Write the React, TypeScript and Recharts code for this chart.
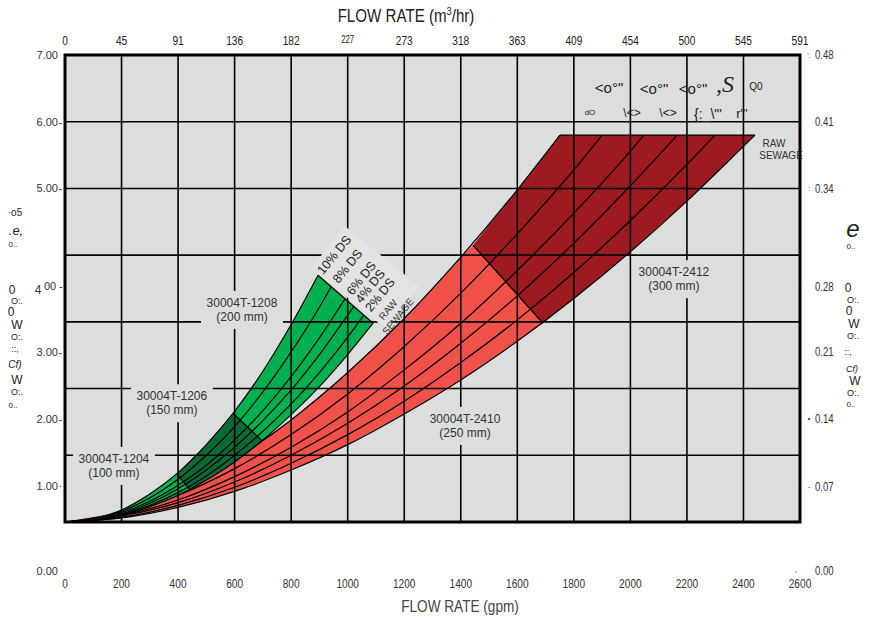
import React from 'react';
import {
  ComposedChart,
  Area,
  Line,
  XAxis,
  YAxis,
  CartesianGrid,
  ReferenceArea,
  ReferenceDot,
} from 'recharts';

// ---------------- axis ticks / labels ----------------
const gpmTicks = [0, 200, 400, 600, 800, 1000, 1200, 1400, 1600, 1800, 2000, 2200, 2400, 2600];
const m3hrLabels = ['0', '45', '91', '136', '182', '227', '273', '318', '363', '409', '454', '500', '545', '591'];
const psiTicks = [0, 1, 2, 3, 4, 5, 6, 7];
const psiLabels = ['0.00', '1.00', '2.00', '3.00', '4', '5.00', '6.00', '7.00'];
const psiMarks = ['', '·', '-', '-', '-', '-', '-', ''];
const barLabels = ['0.00', '0.07', '0.14', '0.21', '0.28', '0.34', '0.41', '0.48'];
const barMarks = [',', '-', '•', '', '', ':', '', "'."];

// ---------------- green family (30004T-1204/1206/1208), head (psi) vs gpm ----------------
const greenGrid = [0, 100, 200, 300, 400, 500, 600, 700, 800, 900, 1000];
const green10 = [0, 0.05, 0.18, 0.42, 0.74, 1.16, 1.66, 2.26, 2.96];
const green8 = [0, 0.04, 0.16, 0.36, 0.64, 1.0, 1.43, 1.95, 2.55, 3.22];
const green6 = [0, 0.03, 0.14, 0.31, 0.55, 0.85, 1.23, 1.67, 2.18, 2.76];
const green4 = [0, 0.03, 0.12, 0.28, 0.5, 0.78, 1.12, 1.52, 1.98, 2.51, 3.1];
const green2 = [0, 0.03, 0.11, 0.25, 0.44, 0.69, 1.0, 1.36, 1.77, 2.24, 2.77];
const greenRaw = [0, 0.03, 0.1, 0.23, 0.4, 0.63, 0.9, 1.23, 1.61, 2.03, 2.51];
const greenEndGpm = [895, 942, 991, 1022, 1057, 1090];
const greenEndHead = [3.7, 3.53, 3.35, 3.23, 3.1, 2.98];
// model boundaries inside green band (10% DS point -> raw sewage point)
const greenSplitTopGpm = [396, 594];
const greenSplitTopHead = [0.72, 1.63];
const greenSplitBotGpm = [442, 697];
const greenSplitBotHead = [0.49, 1.22];

// ---------------- red family (30004T-2410/2412) ----------------
const redGrid = [0, 200, 400, 600, 800, 1000, 1200, 1400, 1600, 1800, 2000, 2200, 2400];
const red10 = [0, 0.15, 0.47, 0.94, 1.53, 2.24, 3.05, 3.97, 4.98];
const red8 = [0, 0.12, 0.4, 0.8, 1.31, 1.92, 2.63, 3.43, 4.32, 5.28];
const red6 = [0, 0.1, 0.33, 0.68, 1.12, 1.65, 2.28, 2.98, 3.77, 4.63, 5.56];
const red4 = [0, 0.09, 0.29, 0.6, 1.0, 1.48, 2.04, 2.68, 3.39, 4.18, 5.04];
const red2 = [0, 0.07, 0.25, 0.52, 0.88, 1.31, 1.81, 2.39, 3.03, 3.74, 4.52, 5.36];
const redRaw = [0, 0.06, 0.22, 0.46, 0.78, 1.16, 1.62, 2.13, 2.71, 3.35, 4.05, 4.81, 5.63];
const redEndGpm = [1751, 1900, 2048, 2166, 2299, 2441];
const redEndHead = [5.8, 5.8, 5.8, 5.8, 5.8, 5.8];
const redSplitTopGpm = [1443];
const redSplitTopHead = [4.15];
const redSplitBotGpm = [1691];
const redSplitBotHead = [2.98];

const dsLabels = ['10% DS', '8% DS', '6% DS', '4% DS', '2% DS'];

const greenModels = [
  { l1: '30004T-1204', l2: '(100 mm)', gpm: 173, head: 0.84 },
  { l1: '30004T-1206', l2: '(150 mm)', gpm: 378, head: 1.78 },
  { l1: '30004T-1208', l2: '(200 mm)', gpm: 626, head: 3.18 },
];
const redModels = [
  { l1: '30004T-2410', l2: '(250 mm)', gpm: 1415, head: 1.44 },
  { l1: '30004T-2412', l2: '(300 mm)', gpm: 2154, head: 3.64 },
];

const greenFills = ['#00b050', '#0b6a36', '#00b050'];
const redFills = ['#f05249', '#9d1a21'];

// ---------------- helpers to build the library tables ----------------
type P = [number, number];
type Split = { top: P; bot: P };

const curve = (grid: number[], vals: number[], ex: number, ey: number): P[] => [
  ...vals.map((v, i) => [grid[i], v] as P),
  [ex, ey],
];

const evalPoly = (poly: P[], x: number): number => {
  for (let i = 0; i < poly.length - 1; i++) {
    const [x0, y0] = poly[i];
    const [x1, y1] = poly[i + 1];
    if (x >= x0 && x <= x1) {
      if (x1 === x0) return y1;
      return y0 + ((y1 - y0) * (x - x0)) / (x1 - x0);
    }
  }
  return poly[poly.length - 1][1];
};

const between = (poly: P[], a: number, b: number) => poly.filter(([x]) => x > a && x < b);

const buildRegion = (upperC: P[], lowerC: P[], L: Split, R: Split) => {
  const upper: P[] = [L.top, ...between(upperC, L.top[0], R.top[0]), R.top, R.bot];
  const lower: P[] = [L.top, L.bot, ...between(lowerC, L.bot[0], R.bot[0]), R.bot];
  const xs = Array.from(new Set([...upper, ...lower].map((p) => p[0]))).sort((a, b) => a - b);
  return xs.map((x) => ({ x, range: [evalPoly(lower, x), evalPoly(upper, x)] }));
};

const toXY = (pts: P[]) => pts.map(([x, y]) => ({ x, y }));

const greenCurves = [green10, green8, green6, green4, green2, greenRaw].map((v, i) =>
  curve(greenGrid, v, greenEndGpm[i], greenEndHead[i])
);
const redCurves = [red10, red8, red6, red4, red2, redRaw].map((v, i) =>
  curve(redGrid, v, redEndGpm[i], redEndHead[i])
);

const origin: Split = { top: [0, 0], bot: [0, 0] };
const greenSplits: Split[] = [
  origin,
  ...greenSplitTopGpm.map((g, i) => ({
    top: [g, greenSplitTopHead[i]] as P,
    bot: [greenSplitBotGpm[i], greenSplitBotHead[i]] as P,
  })),
  { top: [greenEndGpm[0], greenEndHead[0]], bot: [greenEndGpm[5], greenEndHead[5]] },
];
const redSplits: Split[] = [
  origin,
  ...redSplitTopGpm.map((g, i) => ({
    top: [g, redSplitTopHead[i]] as P,
    bot: [redSplitBotGpm[i], redSplitBotHead[i]] as P,
  })),
  { top: [redEndGpm[0], redEndHead[0]], bot: [redEndGpm[5], redEndHead[5]] },
];

const greenRegions = greenFills.map((_, i) =>
  buildRegion(greenCurves[0], greenCurves[5], greenSplits[i], greenSplits[i + 1])
);
const redRegions = redFills.map((_, i) =>
  buildRegion(redCurves[0], redCurves[5], redSplits[i], redSplits[i + 1])
);
const splitLines = [...greenSplits.slice(1), ...redSplits.slice(1)].map((s) => [
  { x: s.top[0], y: s.top[1] },
  { x: s.bot[0], y: s.bot[1] },
]);

// ---------------- styling ----------------
const FONT = "'Liberation Sans', Arial, sans-serif";
const psiLabelShift = [49, 31, 30, 30, 31, 0, 0, 0];

function BottomTick(props: any) {
  const { x, payload } = props;
  return (
    <text transform={`translate(${x},583) scale(0.78,1)`} textAnchor="middle" dominantBaseline="central" fontSize={13} fontFamily={FONT} fill="#333">
      {payload.value}
    </text>
  );
}

function TopTick(props: any) {
  const { x, payload } = props;
  const i = gpmTicks.indexOf(payload.value);
  const lab = m3hrLabels[i];
  return (
    <text transform={`translate(${x},40) scale(0.78,1)`} textAnchor="middle" dominantBaseline="central" fontSize={lab === '227' ? 10 : 13} fontFamily={FONT} fill="#222">
      {lab}
    </text>
  );
}

function LeftTick(props: any) {
  const { y, payload } = props;
  const i = psiTicks.indexOf(payload.value);
  const ty = y + psiLabelShift[i];
  if (psiLabels[i] === '4') {
    return (
      <g fontFamily={FONT} fill="#333" fontSize={11}>
        <text x={38} y={ty + 4} textAnchor="middle" dominantBaseline="central" fontSize={12}>4</text>
        <text x={50} y={ty} textAnchor="middle" dominantBaseline="central">00</text>
        <text x={59} y={ty} dominantBaseline="central">-</text>
      </g>
    );
  }
  return (
    <g fontFamily={FONT} fill="#333" fontSize={11}>
      <text x={58} y={ty} textAnchor="end" dominantBaseline="central">{psiLabels[i]}</text>
      {psiMarks[i] ? <text x={58.5} y={ty} dominantBaseline="central">{psiMarks[i]}</text> : null}
    </g>
  );
}

function RightTick(props: any) {
  const { y, payload } = props;
  const i = psiTicks.indexOf(payload.value);
  const ty = y + psiLabelShift[i];
  const mark = barMarks[i];
  return (
    <g fontFamily={FONT} fill="#333">
      {mark ? (
        <text x={mark === ',' ? 796 : 809} y={ty + (mark === ',' ? -2 : 0)} textAnchor="middle" dominantBaseline="central" fontSize={8}>
          {mark}
        </text>
      ) : null}
      <text transform={`translate(815,${ty}) scale(0.8,1)`} dominantBaseline="central" fontSize={12}>{barLabels[i]}</text>
    </g>
  );
}

function ModelLabel(props: any) {
  const { cx, cy, l1, l2 } = props;
  return (
    <g>
      <rect x={cx - 41} y={cy - 19} width={82} height={38} fill="#dcdddd" />
      <text x={cx} y={cy - 7} textAnchor="middle" dominantBaseline="central" fontSize={12} fontFamily={FONT} fill="#333">
        {l1}
      </text>
      <text x={cx} y={cy + 7} textAnchor="middle" dominantBaseline="central" fontSize={12} fontFamily={FONT} fill="#333">
        {l2}
      </text>
    </g>
  );
}

function DsBox(props: any) {
  const { cx, cy } = props;
  return (
    <g transform={`translate(${cx},${cy}) rotate(-51)`}>
      <rect x={1} y={-10} width={54} height={96} fill="#e3e3e3" />
    </g>
  );
}

function DsLabel(props: any) {
  const { cx, cy, text } = props;
  return (
    <g transform={`translate(${cx},${cy}) rotate(-51)`}>
      <text x={26} y={0} textAnchor="middle" dominantBaseline="central" fontSize={12.5} fontFamily={FONT} fill="#222">
        {text}
      </text>
    </g>
  );
}

function RawRotLabel(props: any) {
  const { cx, cy } = props;
  return (
    <g transform={`translate(${cx},${cy}) rotate(-51)`} fontSize={10} fontFamily={FONT} fill="#333">
      <text x={20} y={3} textAnchor="middle" dominantBaseline="central">RAW</text>
      <text x={21} y={15} textAnchor="middle" dominantBaseline="central">SEWAGE</text>
    </g>
  );
}

function RawTopLabel(props: any) {
  const { cx, cy } = props;
  return (
    <g fontSize={10} fontFamily={FONT} fill="#333">
      <text x={cx + 19} y={cy + 8} textAnchor="middle" dominantBaseline="central">RAW</text>
      <text x={cx + 26} y={cy + 20} textAnchor="middle" dominantBaseline="central">SEWAGE</text>
    </g>
  );
}

// stray scanned marks around the figure (kept as text)
const notes = [
  { t: '<o°"', x: 609, y: 87, s: 15 },
  { t: '<o°"', x: 654, y: 88, s: 15 },
  { t: '<o°"', x: 693, y: 88, s: 15 },
  { t: ',S', x: 725, y: 84, s: 24, serif: true, it: true },
  { t: 'Q0', x: 756, y: 87, s: 10 },
  { t: 'dO', x: 590, y: 113, s: 8 },
  { t: '\\<>', x: 632, y: 113, s: 12 },
  { t: '\\<>', x: 668, y: 113, s: 12 },
  { t: '{:_\\"\'', x: 708, y: 114, s: 14 },
  { t: 'r"\'', x: 742, y: 113, s: 13 },
  { t: '·o5', x: 15, y: 213, s: 10 },
  { t: '.e,', x: 16, y: 230, s: 13, it: true },
  { t: '0..', x: 13, y: 245, s: 8 },
  { t: '0', x: 12, y: 290, s: 12 },
  { t: 'O:.', x: 17, y: 301, s: 9 },
  { t: '0', x: 11, y: 312, s: 12 },
  { t: 'W', x: 17, y: 325, s: 12 },
  { t: 'O:.', x: 17, y: 337, s: 9 },
  { t: '::,', x: 15, y: 349, s: 9 },
  { t: 'Cf)', x: 15, y: 365, s: 10, it: true },
  { t: 'W', x: 17, y: 380, s: 12 },
  { t: 'O:.', x: 17, y: 392, s: 9 },
  { t: '0..', x: 13, y: 406, s: 8 },
  { t: 'e', x: 853, y: 229, s: 24, it: true },
  { t: '0..', x: 851, y: 247, s: 8 },
  { t: '0', x: 848, y: 288, s: 12 },
  { t: 'O:.', x: 853, y: 300, s: 9 },
  { t: '0', x: 849, y: 311, s: 12 },
  { t: 'W', x: 854, y: 324, s: 12 },
  { t: 'O:.', x: 853, y: 336, s: 9 },
  { t: '::,', x: 848, y: 352, s: 9 },
  { t: 'Cf)', x: 852, y: 369, s: 9, it: true },
  { t: 'W', x: 855, y: 381, s: 12 },
  { t: 'O:.', x: 853, y: 393, s: 9 },
  { t: '0..', x: 851, y: 405, s: 8 },
];

export default function App() {
  return (
    <div style={{ position: 'absolute', left: 0, top: 0, width: 874, height: 619, background: '#fff', overflow: 'hidden' }}>
      <ComposedChart width={874} height={619} margin={{ top: 0, right: 0, bottom: 0, left: 0 }}>
        <XAxis
          xAxisId={0}
          type="number"
          dataKey="x"
          domain={[0, 2600]}
          ticks={gpmTicks}
          allowDataOverflow
          interval={0}
          orientation="bottom"
          height={97}
          axisLine={false}
          tickLine={false}
          tick={<BottomTick />}
        />
        <XAxis
          xAxisId="top"
          type="number"
          dataKey="x"
          domain={[0, 2600]}
          ticks={gpmTicks}
          allowDataOverflow
          interval={0}
          orientation="top"
          height={55}
          axisLine={false}
          tickLine={false}
          tick={<TopTick />}
        />
        <YAxis
          yAxisId={0}
          type="number"
          domain={[0, 7]}
          ticks={psiTicks}
          allowDataOverflow
          interval={0}
          width={65}
          axisLine={false}
          tickLine={false}
          tick={<LeftTick />}
        />
        <YAxis
          yAxisId="right"
          orientation="right"
          type="number"
          domain={[0, 7]}
          ticks={psiTicks}
          allowDataOverflow
          interval={0}
          width={74}
          axisLine={false}
          tickLine={false}
          tick={<RightTick />}
        />

        <ReferenceArea x1={0} x2={2600} y1={0} y2={7} fill="#dcdddd" fillOpacity={1} stroke="none" ifOverflow="visible" zIndex={50} />

        {redRegions.map((d, i) => (
          <Area
            key={'ra' + i}
            data={d}
            dataKey="range"
            type="linear"
            fill={redFills[i]}
            fillOpacity={1}
            stroke="none"
            isAnimationActive={false}
            activeDot={false}
            dot={false}
            zIndex={100}
          />
        ))}
        {redCurves.map((pts, i) => (
          <Line
            key={'rl' + i}
            data={toXY(pts)}
            dataKey="y"
            type="monotone"
            stroke="#000"
            strokeWidth={1.2}
            dot={false}
            activeDot={false}
            isAnimationActive={false}
            zIndex={110}
          />
        ))}
        {greenRegions.map((d, i) => (
          <Area
            key={'ga' + i}
            data={d}
            dataKey="range"
            type="linear"
            fill={greenFills[i]}
            fillOpacity={1}
            stroke="none"
            isAnimationActive={false}
            activeDot={false}
            dot={false}
            zIndex={120}
          />
        ))}
        {greenCurves.map((pts, i) => (
          <Line
            key={'gl' + i}
            data={toXY(pts)}
            dataKey="y"
            type="monotone"
            stroke="#000"
            strokeWidth={1.2}
            dot={false}
            activeDot={false}
            isAnimationActive={false}
            zIndex={130}
          />
        ))}
        {splitLines.map((d, i) => (
          <Line
            key={'sl' + i}
            data={d}
            dataKey="y"
            type="linear"
            stroke="#000"
            strokeWidth={1.3}
            dot={false}
            activeDot={false}
            isAnimationActive={false}
            zIndex={140}
          />
        ))}

        <CartesianGrid stroke="#000" strokeWidth={1.6} fill="none" horizontal vertical zIndex={150} />

        <ReferenceDot x={greenEndGpm[0]} y={greenEndHead[0]} r={1} ifOverflow="visible" zIndex={155} shape={(p: any) => <DsBox cx={p.cx} cy={p.cy} />} />

        {[...greenModels, ...redModels].map((m, i) => (
          <ReferenceDot
            key={'ml' + i}
            x={m.gpm}
            y={m.head}
            r={1}
            ifOverflow="visible"
            zIndex={160}
            shape={(p: any) => <ModelLabel cx={p.cx} cy={p.cy} l1={m.l1} l2={m.l2} />}
          />
        ))}
        {dsLabels.map((t, i) => (
          <ReferenceDot
            key={'ds' + i}
            x={greenEndGpm[i]}
            y={greenEndHead[i]}
            r={1}
            ifOverflow="visible"
            zIndex={170}
            shape={(p: any) => <DsLabel cx={p.cx} cy={p.cy} text={t} />}
          />
        ))}
        <ReferenceDot x={greenEndGpm[5]} y={greenEndHead[5]} r={1} ifOverflow="visible" zIndex={170} shape={(p: any) => <RawRotLabel cx={p.cx} cy={p.cy} />} />
        <ReferenceDot x={redEndGpm[5]} y={redEndHead[5]} r={1} ifOverflow="visible" zIndex={170} shape={(p: any) => <RawTopLabel cx={p.cx} cy={p.cy} />} />

        <ReferenceArea x1={0} x2={2600} y1={0} y2={7} fill="none" fillOpacity={0} stroke="#000" strokeWidth={3} ifOverflow="visible" zIndex={180} />
      </ComposedChart>

      <div style={{ position: 'absolute', left: 406, top: 15, transform: 'translate(-50%,-50%) scaleX(0.84)', fontFamily: FONT, fontSize: 18, color: '#222', whiteSpace: 'nowrap', lineHeight: 1 }}>
        FLOW RATE (m<sup style={{ fontSize: 11 }}>3</sup>/hr)
      </div>
      <div style={{ position: 'absolute', left: 460, top: 606, transform: 'translate(-50%,-50%) scaleX(0.8)', fontFamily: FONT, fontSize: 17, color: '#444', whiteSpace: 'nowrap', lineHeight: 1 }}>
        FLOW RATE (gpm)
      </div>
      {notes.map((n, i) => (
        <div
          key={'n' + i}
          style={{
            position: 'absolute',
            left: n.x,
            top: n.y,
            transform: 'translate(-50%,-50%)',
            fontFamily: n.serif ? "'Liberation Serif', serif" : FONT,
            fontStyle: n.it ? 'italic' : 'normal',
            fontSize: n.s,
            color: '#222',
            whiteSpace: 'nowrap',
            lineHeight: 1,
          }}
        >
          {n.t}
        </div>
      ))}
    </div>
  );
}
